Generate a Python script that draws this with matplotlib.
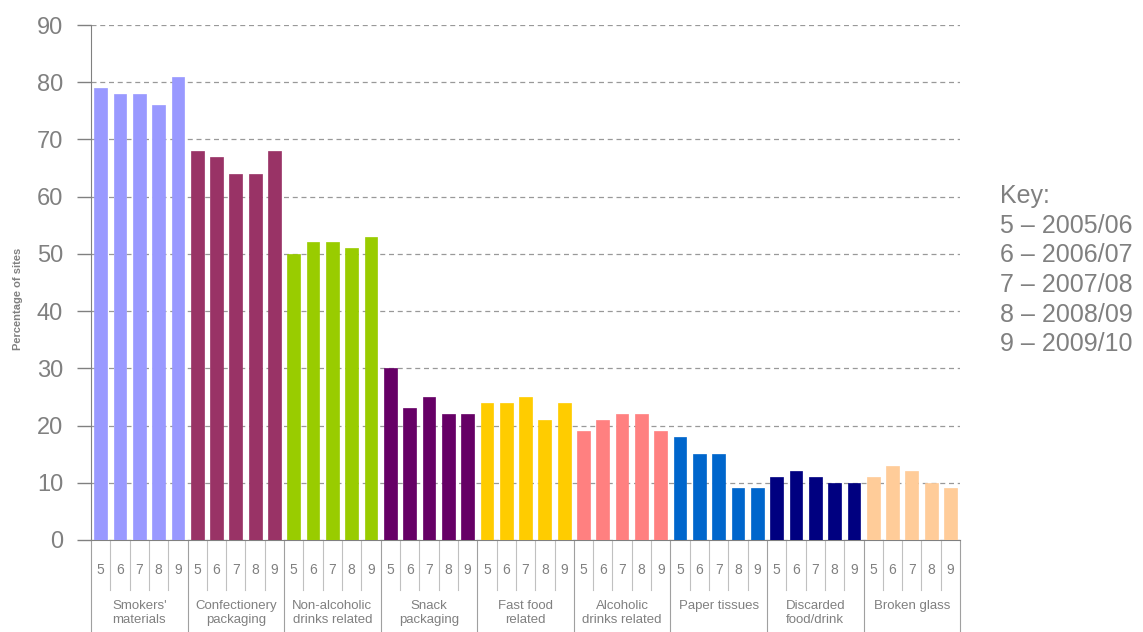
import matplotlib.pyplot as plt
import matplotlib.transforms as mtransforms
import numpy as np

plt.rcParams['font.family'] = ['Liberation Sans', 'DejaVu Sans']

groups = ["Smokers'\nmaterials", "Confectionery\npackaging", "Non-alcoholic\ndrinks related",
          "Snack\npackaging", "Fast food\nrelated", "Alcoholic\ndrinks related",
          "Paper tissues", "Discarded\nfood/drink", "Broken glass"]
years = ["5", "6", "7", "8", "9"]
values = [
    [79, 78, 78, 76, 81],
    [68, 67, 64, 64, 68],
    [50, 52, 52, 51, 53],
    [30, 23, 25, 22, 22],
    [24, 24, 25, 21, 24],
    [19, 21, 22, 22, 19],
    [18, 15, 15, 9, 9],
    [11, 12, 11, 10, 10],
    [11, 13, 12, 10, 9],
]
colors = ["#9999FF", "#993366", "#99CC00", "#660066", "#FFCC00",
          "#FF8080", "#0066CC", "#000080", "#FFCC99"]
key_lines = ["Key:", "5 \u2013 2005/06", "6 \u2013 2006/07", "7 \u2013 2007/08",
             "8 \u2013 2008/09", "9 \u2013 2009/10"]

grey = "#808080"

fig = plt.figure(figsize=(11.43, 6.32), dpi=100)
ax = fig.add_axes([0.0796, 0.1456, 0.7604, 0.8148])

n = len(years)
for g, (vals, col) in enumerate(zip(values, colors)):
    xs = np.arange(n) + g * n
    ax.bar(xs, vals, width=0.66, color=col, edgecolor=col, linewidth=0.5, zorder=3)

total = len(groups) * n
ax.set_xlim(-0.5, total - 0.5)
ax.set_ylim(0, 90)
ax.set_yticks(range(0, 91, 10))
ax.tick_params(axis="y", labelsize=17, length=10, width=1, colors=grey, pad=10)
ax.set_xticks([])

ax.yaxis.grid(True, color="#999999", linestyle=(0, (4, 3)), linewidth=0.9, zorder=0)
for s in ["top", "right"]:
    ax.spines[s].set_visible(False)
ax.spines["left"].set_color(grey)
ax.spines["bottom"].set_color(grey)

fig.text(18 / 1143, 1 - 299 / 632, "Percentage of sites", rotation=90, fontsize=8,
         fontweight="bold", color=grey, ha="center", va="center")

# category axis under the bars
trans = mtransforms.blended_transform_factory(ax.transData, ax.transAxes)
for i in range(total + 1):
    xb = i - 0.5
    if i % n == 0:
        ax.plot([xb, xb], [0, -0.2], transform=trans, color="#a0a0a0", lw=0.8, clip_on=False)
    else:
        ax.plot([xb, xb], [0, -0.097], transform=trans, color="#c0c0c0", lw=0.8, clip_on=False)
for g in range(len(groups)):
    for j, y in enumerate(years):
        ax.text(g * n + j, -0.058, y, transform=trans, ha="center", va="center",
                fontsize=10, color=grey)
    ax.text(g * n + (n - 1) / 2, -0.116, groups[g], transform=trans, ha="center", va="top",
            fontsize=9.5, color=grey, linespacing=1.2)

# key
for k, line in enumerate(key_lines):
    fig.text(0.875, 0.69 - k * 0.047, line, fontsize=18, color=grey, ha="left", va="center")

fig.savefig("out.png", dpi=100)
